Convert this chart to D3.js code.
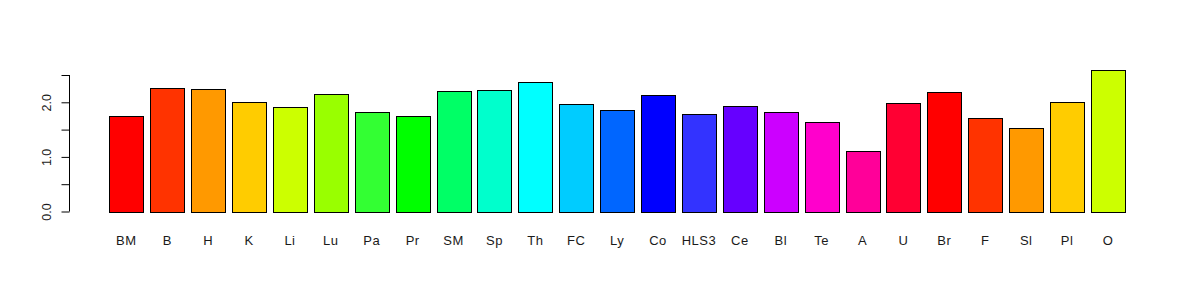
<!DOCTYPE html>
<html>
<head>
<meta charset="utf-8">
<script src="https://cdn.jsdelivr.net/npm/d3@7"></script>
<style>
  body { margin: 0; background: #fff; }
  svg { display: block; font-family: "Liberation Sans", Arial, sans-serif; }
</style>
</head>
<body>
<svg width="1200" height="300"></svg>
<script>
// categories and values
var labels = ["BM", "B", "H", "K", "Li", "Lu", "Pa", "Pr", "SM", "Sp", "Th", "FC", "Ly",
              "Co", "HLS3", "Ce", "Bl", "Te", "A", "U", "Br", "F", "Sl", "Pl", "O"];
var values = [1.74, 2.27, 2.25, 2.01, 1.92, 2.16, 1.83, 1.755, 2.21, 2.23, 2.38, 1.97, 1.85,
              2.13, 1.78, 1.94, 1.83, 1.645, 1.10, 1.99, 2.18, 1.72, 1.535, 2.01, 2.60];
var colors = ["#FF0000", "#FF3300", "#FF9900", "#FFCC00", "#CCFF00", "#99FF00", "#33FF33",
              "#00FF00", "#00FF66", "#00FFCC", "#00FFFF", "#00CCFF", "#0066FF", "#0000FF",
              "#3333FF", "#6600FF", "#CC00FF", "#FF00CC", "#FF0099", "#FF0033", "#FF0000",
              "#FF3300", "#FF9900", "#FFCC00", "#CCFF00"];
var yTicks = [0, 0.5, 1, 1.5, 2, 2.5];
var yTickLabels = ["0.0", "", "1.0", "", "2.0", ""];

var svg = d3.select("svg");

// barplot geometry: width 1, space 0.2 like R
var x = d3.scaleBand()
    .domain(labels)
    .range([109.3, 1125])
    .paddingInner(0.2 / 1.2)
    .paddingOuter(0);

var y = d3.scaleLinear()
    .domain([0, 2.5])
    .range([211.5, 75]);

var data = labels.map(function(d, i) {
  return { name: d, value: values[i], color: colors[i] };
});

svg.append("g")
   .selectAll("rect")
   .data(data)
   .enter().append("rect")
   .attr("x", function(d) { return Math.round(x(d.name)) + 0.5; })
   .attr("y", function(d) { return Math.round(y(d.value)) + 0.5; })
   .attr("width", Math.round(x.bandwidth()))
   .attr("height", function(d) { return Math.round(y(0)) - Math.round(y(d.value)); })
   .attr("fill", function(d) { return d.color; })
   .attr("stroke", "#000")
   .attr("stroke-width", 1);

// category names under the bars
svg.append("g")
   .selectAll("text")
   .data(data)
   .enter().append("text")
   .attr("x", function(d) { return x(d.name) + x.bandwidth() / 2; })
   .attr("y", 244.5)
   .attr("text-anchor", "middle")
   .attr("font-size", 13)
   .attr("letter-spacing", 0.5)
   .attr("fill", "#1a1a1a")
   .text(function(d) { return d.name; });

// y axis, R style: line only from first to last tick
var yAxis = d3.axisLeft(y)
    .tickValues(yTicks)
    .tickSize(8)
    .tickFormat(function(d, i) { return yTickLabels[i]; });

var ga = svg.append("g")
   .attr("transform", "translate(69.5,0)")
   .call(yAxis);
ga.select(".domain").attr("d", "M0," + y(2.5) + "V" + y(0));
ga.selectAll("line").attr("stroke", "#000");
ga.selectAll(".domain").attr("stroke", "#000");
ga.selectAll("text")
  .attr("font-size", 12.5)
  .attr("font-family", "Liberation Sans, Arial, sans-serif")
  .attr("fill", "#1a1a1a")
  .attr("text-anchor", "middle")
  .attr("dy", 0)
  .attr("x", 0)
  .attr("transform", "translate(-18.5,0) rotate(-90)");
</script>
</body>
</html>
